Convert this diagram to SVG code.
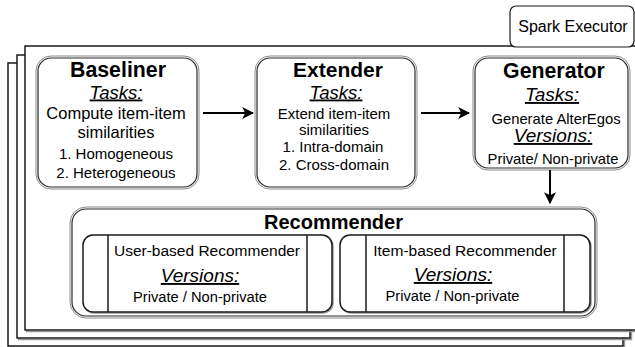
<svg xmlns="http://www.w3.org/2000/svg" width="635" height="347" viewBox="0 0 635 347">
<defs>
<style>
text{font-family:"Liberation Sans",Arial,sans-serif;fill:#000;text-anchor:middle}
.stack{fill:#fff;stroke:#1a1a1a;stroke-width:1.5}
.shadow{fill:none;stroke:#9a9a9a;stroke-width:1.5}
.outer{fill:#fff;stroke:#8a8a8a;stroke-width:1}
.inner{fill:none;stroke:#2a2a2a;stroke-width:1.2}
.proc{fill:#fff;stroke:#1a1a1a;stroke-width:1.5}
.conn{stroke:#000;stroke-width:2;fill:none}
.title{font-weight:bold;font-size:21.3px}
.hdr{font-style:italic;font-size:19px;text-decoration:underline}
</style>
<marker id="arr" viewBox="0 0 10 10" refX="9" refY="5" markerWidth="6" markerHeight="6" orient="auto" markerUnits="strokeWidth">
<path d="M0,0 L10,5 L0,10 L2.5,5 Z" fill="#000"/>
</marker>
</defs>

<g id="executor-stack">
<rect class="shadow" x="9.5" y="64.5" width="615" height="283"/>
<rect class="stack" x="8" y="63" width="615" height="283"/>
<rect class="shadow" x="18.5" y="56.5" width="613" height="283"/>
<rect class="stack" x="17" y="55" width="613" height="283"/>
<rect class="shadow" x="26.5" y="47.5" width="613" height="284"/>
<rect class="stack" x="25" y="46" width="613" height="284"/>
</g>

<g id="spark-executor">
<rect x="510" y="6" width="124" height="41" rx="6" fill="#fff" stroke="#1a1a1a" stroke-width="1.2"/>
<text x="573" y="32" font-size="16">Spark Executor</text>
</g>

<g id="baseliner">
<rect class="outer" x="36" y="56" width="163" height="133" rx="15"/>
<rect class="inner" x="38" y="58" width="159" height="129" rx="13"/>
<text class="title" x="118" y="77">Baseliner</text>
<text class="hdr" x="116" y="98.5" style="font-size:18.5px">Tasks:</text>
<text x="116" y="119" font-size="16.5">Compute item-item</text>
<text x="116" y="138" font-size="16.5">similarities</text>
<text x="116" y="159" font-size="15">1. Homogeneous</text>
<text x="116" y="178" font-size="15">2. Heterogeneous</text>
</g>

<g id="extender">
<rect class="outer" x="255" y="56" width="162" height="133" rx="15"/>
<rect class="inner" x="257" y="58" width="158" height="129" rx="13"/>
<text class="title" x="338" y="77" style="font-size:21px">Extender</text>
<text class="hdr" x="336" y="98.5" style="font-size:18.5px">Tasks:</text>
<text x="334" y="119" font-size="15">Extend item-item</text>
<text x="334" y="135" font-size="15">similarities</text>
<text x="333" y="152" font-size="15">1. Intra-domain</text>
<text x="334" y="170" font-size="15">2. Cross-domain</text>
</g>

<g id="generator">
<rect class="outer" x="473" y="56" width="157" height="114" rx="15"/>
<rect class="inner" x="475" y="58" width="153" height="110" rx="13"/>
<text class="title" x="554" y="78">Generator</text>
<text class="hdr" x="552" y="101">Tasks:</text>
<text x="556" y="124" font-size="14.8">Generate AlterEgos</text>
<text class="hdr" x="553" y="142">Versions:</text>
<text x="553" y="164" font-size="14.8">Private/ Non-private</text>
</g>

<g id="recommender">
<rect class="outer" x="70" y="207" width="527" height="111" rx="16"/>
<rect class="inner" x="72" y="209" width="523" height="107" rx="14"/>
<text class="title" x="333.5" y="229" style="font-size:20px">Recommender</text>
</g>

<g id="user-based-recommender">
<rect class="shadow" x="84" y="236" width="249" height="77" rx="10"/>
<rect class="proc" x="83" y="235" width="249" height="77" rx="10"/>
<line x1="108" y1="235" x2="108" y2="312" stroke="#1a1a1a" stroke-width="1.5"/>
<line x1="307" y1="235" x2="307" y2="312" stroke="#1a1a1a" stroke-width="1.5"/>
<text x="207" y="256" font-size="15.5">User-based Recommender</text>
<text class="hdr" x="200" y="282">Versions:</text>
<text x="200" y="302" font-size="14.7">Private / Non-private</text>
</g>

<g id="item-based-recommender">
<rect class="shadow" x="341" y="236" width="250" height="77" rx="10"/>
<rect class="proc" x="340" y="235" width="250" height="77" rx="10"/>
<line x1="366" y1="235" x2="366" y2="312" stroke="#1a1a1a" stroke-width="1.5"/>
<line x1="564" y1="235" x2="564" y2="312" stroke="#1a1a1a" stroke-width="1.5"/>
<text x="465" y="256" font-size="15.5">Item-based Recommender</text>
<text class="hdr" x="453" y="281">Versions:</text>
<text x="452.5" y="301" font-size="14.7">Private / Non-private</text>
</g>

<g id="connectors">
<line class="conn" x1="203" y1="113" x2="253" y2="113" marker-end="url(#arr)"/>
<line class="conn" x1="421" y1="113" x2="469" y2="113" marker-end="url(#arr)"/>
<line class="conn" x1="550" y1="170" x2="550" y2="203" marker-end="url(#arr)"/>
</g>
</svg>
